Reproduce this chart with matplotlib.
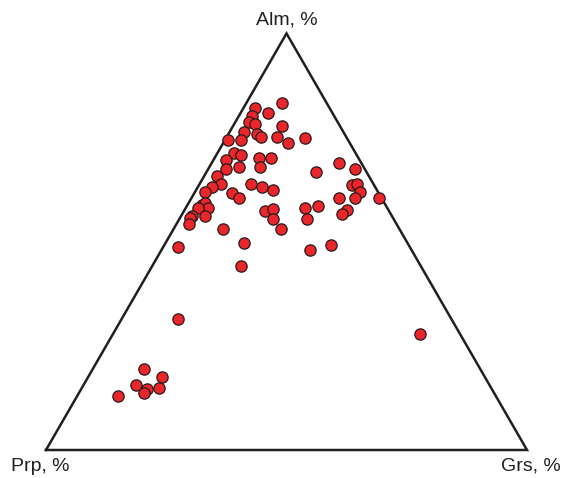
import numpy as np
import matplotlib
matplotlib.use("Agg")
import matplotlib.pyplot as plt

# garnet end-member compositions, % (Alm, Prp, Grs)
alm = [83.2, 82.0, 80.8, 80.1, 78.7, 78.2, 77.7, 76.3, 75.8, 75.1,
       75.1, 74.8, 73.6, 74.3, 74.3, 71.2, 70.7, 70.0, 70.0, 69.5,
       67.9, 67.4, 67.9, 66.7, 68.8, 67.4, 65.7, 63.8, 63.1, 61.9,
       63.8, 63.1, 62.4, 61.6, 60.4, 63.5, 63.8, 61.9, 60.4, 60.4,
       60.4, 58.8, 59.2, 58.0, 58.0, 56.1, 56.1, 55.6, 54.2, 57.3,
       57.8, 55.4, 53.0, 53.0, 49.6, 58.0, 58.5, 55.4, 57.6, 56.6,
       48.0, 49.2, 48.7, 44.1, 31.4, 27.8, 19.4, 17.5, 15.6, 14.6,
       13.7, 14.9, 12.9]
grs = [7.5, 2.5, 5.8, 2.8, 2.9, 4.4, 10.2, 3.1, 6.0, 7.2,
       10.5, 16.4, 13.5, 0.6, 3.3, 3.5, 5.1, 9.3, 11.8, 2.6,
       6.2, 3.7, 10.6, 22.8, 26.5, 30.5, 2.7, 4.5, 3.0, 2.2,
       10.7, 13.4, 16.0, 7.9, 9.9, 31.8, 32.8, 34.4, 30.7, 34.0,
       39.0, 3.0, 3.5, 4.7, 2.6, 5.0, 2.3, 2.1, 2.6, 16.8,
       18.3, 19.5, 22.4, 10.3, 16.4, 24.8, 27.3, 26.6, 33.8, 33.2,
       30.9, 34.7, 3.1, 18.5, 11.7, 63.9, 10.7, 15.4, 10.9, 13.7,
       13.5, 16.0, 8.5]
prp = [100 - a - g for a, g in zip(alm, grs)]

labels = ["Alm, %", "Prp, %", "Grs, %"]


def to_xy(a, p, g):
    a, p, g = np.asarray(a), np.asarray(p), np.asarray(g)
    tot = a + p + g
    x = (g + a / 2) / tot
    y = a / tot * np.sqrt(3) / 2
    return x, y


fig = plt.figure(figsize=(5.63, 4.78), dpi=100)
ax = fig.add_axes([0, 0, 1, 1])
ax.set_xlim(-46 / 481, 517 / 481)
ax.set_ylim(-28 / 481, 450 / 481)
ax.axis("off")

# triangle frame
tx, ty = to_xy([0, 0, 100, 0], [100, 0, 0, 100], [0, 100, 0, 0])
ax.plot(tx, ty, color="#231f20", lw=1.8, solid_joinstyle="miter", zorder=1)

x, y = to_xy(alm, prp, grs)
ax.scatter(x, y, s=66, c="#e8262b", edgecolors="#2a1a1a", linewidths=0.9, zorder=2)

font = dict(family=["Liberation Sans", "DejaVu Sans"], fontsize=14, color="#231f20")
ax.text(0.501, 0.894, labels[0], ha="center", va="center", **font)
ax.text(-0.073, -0.034, labels[1], ha="left", va="center", **font)
ax.text(1.071, -0.034, labels[2], ha="right", va="center", **font)

fig.savefig("out.png", dpi=100)
